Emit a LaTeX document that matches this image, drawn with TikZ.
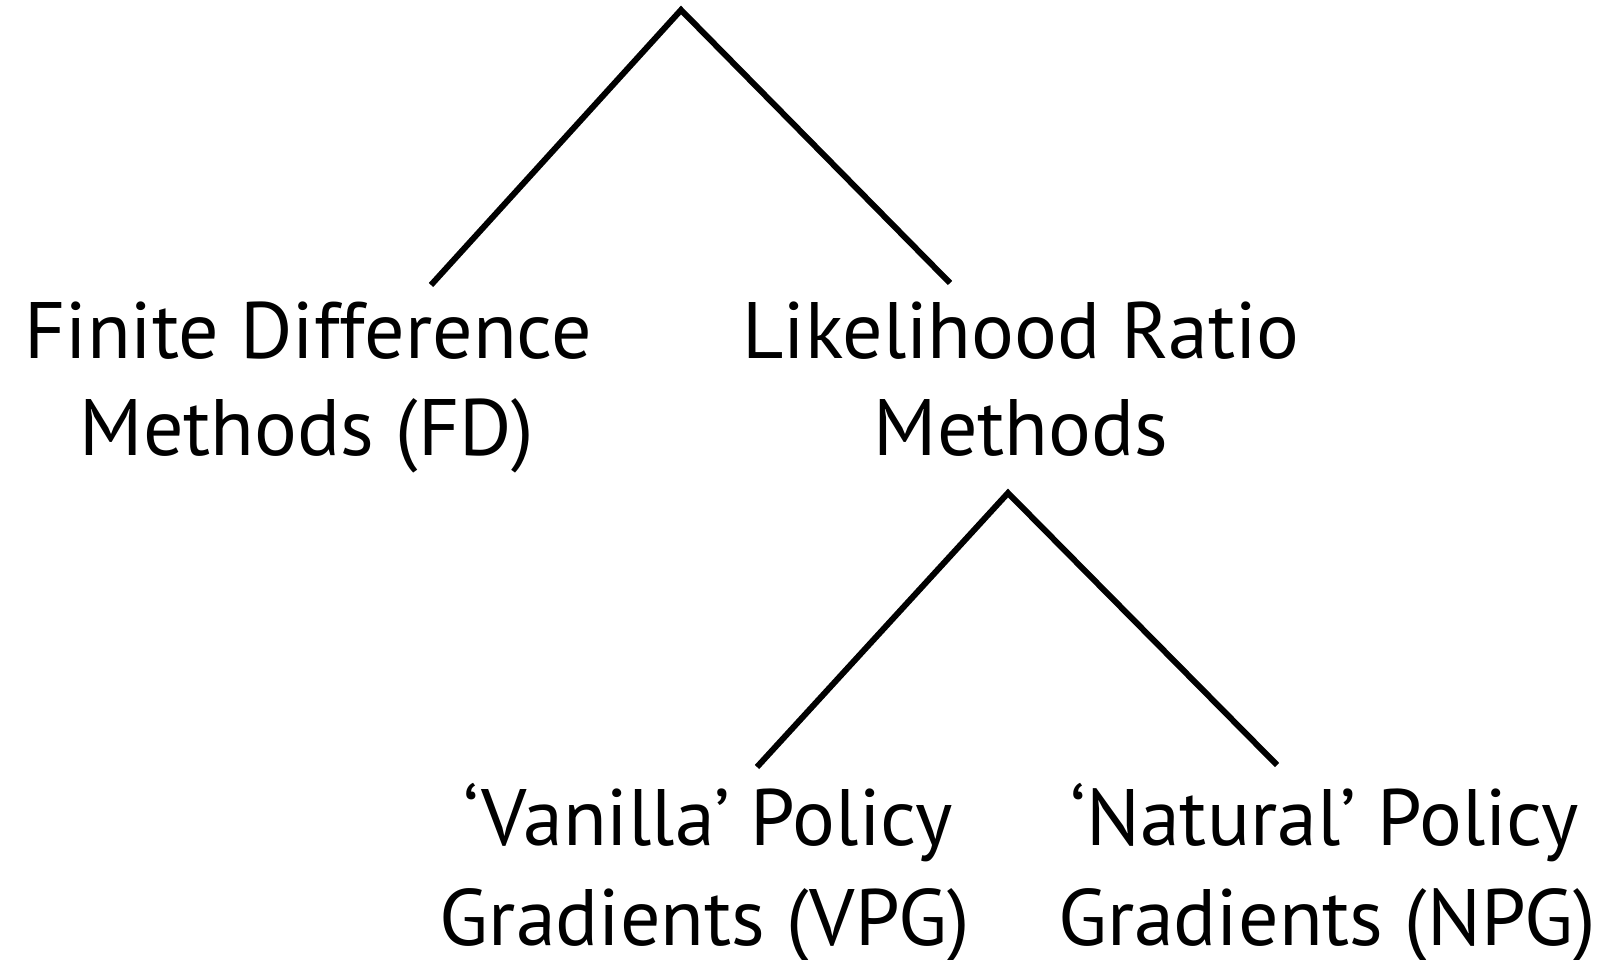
\documentclass[tikz,border=0pt]{standalone}
\usepackage{fontspec}
\setmainfont{PT Sans}
\begin{document}
\begin{tikzpicture}[x=1pt,y=-1pt,
  lbl/.style={anchor=base,inner sep=0pt,font=\fontsize{80}{96}\selectfont},
  branch/.style={line width=6pt}]
\useasboundingbox (0,0) rectangle (1623,959);
\coordinate (root) at (681,10);
\coordinate (fdtop) at (431,285);
\coordinate (lrtop) at (950,283);
\coordinate (lrroot) at (1008,493);
\coordinate (vpgtop) at (757,767);
\coordinate (npgtop) at (1277,765);
\node[lbl] (fdA) at (308,358) {Finite Difference};
\node[lbl] (fdB) at (307,455) {Methods (FD)};
\node[lbl] (lrA) at (1021,358) {Likelihood Ratio};
\node[lbl] (lrB) at (1021,455) {Methods};
\node[lbl] (vpgA) at (708,845) {‘Vanilla’ Policy};
\node[lbl] (vpgB) at (705,945) {Gradients (VPG)};
\node[lbl] (npgA) at (1325,845) {‘Natural’ Policy};
\node[lbl] (npgB) at (1327,945) {Gradients (NPG)};
\draw[branch] (fdtop) -- (root) -- (lrtop);
\draw[branch] (vpgtop) -- (lrroot) -- (npgtop);
\end{tikzpicture}
\end{document}
